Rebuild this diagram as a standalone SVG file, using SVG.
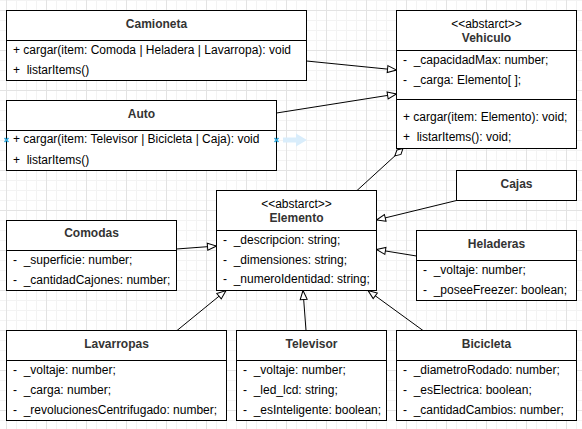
<svg xmlns="http://www.w3.org/2000/svg" width="582" height="429" viewBox="0 0 582 429">
<style>
.box{fill:#fff;stroke:#000;stroke-width:1}
.sep{stroke:#000;stroke-width:1;fill:none}
.t{font-family:"Liberation Sans",Arial,sans-serif;font-size:12px;fill:#000;white-space:pre}
.h{font-family:"Liberation Sans",Arial,sans-serif;font-size:12px;font-weight:bold;fill:#333;text-anchor:middle}
.s{font-family:"Liberation Sans",Arial,sans-serif;font-size:12px;fill:#000;text-anchor:middle}
.c{stroke:#000;stroke-width:1;fill:none}
</style>
<defs>
<pattern id="minor" patternUnits="userSpaceOnUse" x="6" y="0" width="10" height="10">
<path d="M0.5 0 V10 M0 0.5 H10" stroke="#f3f3f3" stroke-width="1" fill="none"/>
</pattern>
<pattern id="major" patternUnits="userSpaceOnUse" x="6" y="10" width="40" height="40">
<path d="M0.5 0 V40 M0 0.5 H40" stroke="#e3e3e3" stroke-width="1" fill="none"/>
</pattern>
<marker id="tri" markerUnits="userSpaceOnUse" orient="auto" overflow="visible" refX="0" refY="0" markerWidth="1" markerHeight="1">
<path d="M-9,-3.5 L0,0 L-9,3.5 z" fill="#fff" stroke="#000" stroke-width="1"/>
</marker>
<marker id="dia" markerUnits="userSpaceOnUse" orient="auto" overflow="visible" refX="0" refY="0" markerWidth="1" markerHeight="1">
<path d="M0,0 L-5.5,-3 L-11,0 L-5.5,3 z" fill="#fff" stroke="#000" stroke-width="1"/>
</marker>
</defs>
<rect width="582" height="429" fill="#fff"/>
<rect width="582" height="429" fill="url(#minor)"/>
<rect width="582" height="429" fill="url(#major)"/>

<g id="connectors">
<path class="c" d="M306.5 61 L396.5 70" marker-end="url(#tri)"/>
<path class="c" d="M276.5 113 L396.5 94" marker-end="url(#tri)"/>
<path class="c" d="M357 190.5 L403 148.5" marker-end="url(#dia)"/>
<path class="c" d="M176.5 249 L216.5 246" marker-end="url(#tri)"/>
<path class="c" d="M456.5 200.5 L376.5 220" marker-end="url(#tri)"/>
<path class="c" d="M416.5 256 L376.5 249.5" marker-end="url(#tri)"/>
<path class="c" d="M177 330.5 L226 290.5" marker-end="url(#tri)"/>
<path class="c" d="M306 330.5 L303 290.5" marker-end="url(#tri)"/>
<path class="c" d="M423 330.5 L368 290.5" marker-end="url(#tri)"/>
</g>

<g id="camioneta">
<rect class="box" x="6.5" y="10.5" width="300" height="70"/>
<path class="sep" d="M6.5 40.5 H306.5"/>
<text class="h" x="156.5" y="28">Camioneta</text>
<text class="t" x="13" y="54">+ cargar(item: Comoda | Heladera | Lavarropa): void</text>
<text class="t" x="13" y="74">+  listarItems()</text>
</g>

<g id="auto">
<rect class="box" x="6.5" y="100.5" width="270" height="70"/>
<path class="sep" d="M6.5 130.5 H276.5"/>
<text class="h" x="141.5" y="118">Auto</text>
<text class="t" x="13" y="143">+ cargar(item: Televisor | Bicicleta | Caja): void</text>
<text class="t" x="13" y="164">+  listarItems()</text>
</g>

<g id="vehiculo">
<rect class="box" x="396.5" y="10.5" width="180" height="138"/>
<path class="sep" d="M396.5 50.5 H576.5 M396.5 99.5 H576.5"/>
<text class="s" x="486.5" y="28">&lt;&lt;abstarct&gt;&gt;</text>
<text class="h" x="486.5" y="42">Vehiculo</text>
<text class="t" x="403" y="64">-  _capacidadMax: number;</text>
<text class="t" x="403" y="84">-  _carga: Elemento[ ];</text>
<text class="t" x="403" y="121">+ cargar(item: Elemento): void;</text>
<text class="t" x="403" y="141">+  listarItems(): void;</text>
</g>

<g id="elemento">
<rect class="box" x="216.5" y="190.5" width="160" height="100"/>
<path class="sep" d="M216.5 230.5 H376.5"/>
<text class="s" x="296.5" y="208">&lt;&lt;abstarct&gt;&gt;</text>
<text class="h" x="296.5" y="222">Elemento</text>
<text class="t" x="223" y="244">-  _descripcion: string;</text>
<text class="t" x="223" y="264">-  _dimensiones: string;</text>
<text class="t" x="223" y="283">-  _numeroIdentidad: string;</text>
</g>

<g id="comodas">
<rect class="box" x="6.5" y="220.5" width="170" height="70"/>
<path class="sep" d="M6.5 250.5 H176.5"/>
<text class="h" x="91.5" y="237">Comodas</text>
<text class="t" x="13" y="264">-  _superficie: number;</text>
<text class="t" x="13" y="284">-  _cantidadCajones: number;</text>
</g>

<g id="cajas">
<rect class="box" x="456.5" y="170.5" width="120" height="30"/>
<text class="h" x="516.5" y="188">Cajas</text>
</g>

<g id="heladeras">
<rect class="box" x="416.5" y="230.5" width="160" height="70"/>
<path class="sep" d="M416.5 260.5 H576.5"/>
<text class="h" x="496.5" y="248">Heladeras</text>
<text class="t" x="423" y="274">-  _voltaje: number;</text>
<text class="t" x="423" y="294">-  _poseeFreezer: boolean;</text>
</g>

<g id="lavarropas">
<rect class="box" x="6.5" y="330.5" width="220" height="90"/>
<path class="sep" d="M6.5 360.5 H226.5"/>
<text class="h" x="116.5" y="348">Lavarropas</text>
<text class="t" x="13" y="374">-  _voltaje: number;</text>
<text class="t" x="13" y="394">-  _carga: number;</text>
<text class="t" x="13" y="414">-  _revolucionesCentrifugado: number;</text>
</g>

<g id="televisor">
<rect class="box" x="236.5" y="330.5" width="150" height="90"/>
<path class="sep" d="M236.5 360.5 H386.5"/>
<text class="h" x="311.5" y="348">Televisor</text>
<text class="t" x="243" y="374">-  _voltaje: number;</text>
<text class="t" x="243" y="394">-  _led_lcd: string;</text>
<text class="t" x="243" y="414">-  _esInteligente: boolean;</text>
</g>

<g id="bicicleta">
<rect class="box" x="396.5" y="330.5" width="180" height="90"/>
<path class="sep" d="M396.5 360.5 H576.5"/>
<text class="h" x="486.5" y="348">Bicicleta</text>
<text class="t" x="403" y="374">-  _diametroRodado: number;</text>
<text class="t" x="403" y="394">-  _esElectrica: boolean;</text>
<text class="t" x="403" y="414">-  _cantidadCambios: number;</text>
</g>

<g id="selection-marks">
<path d="M4.5 138 L8.5 142 M8.5 138 L4.5 142" stroke="#29a8e0" stroke-width="1.5"/>
<path d="M274.5 138 L278.5 142 M278.5 138 L274.5 142" stroke="#29a8e0" stroke-width="1.5"/>
<path d="M283 137.5 H296 V133.5 L307 140 L296 146.5 V142.5 H283 z" fill="#d9edfb"/>
</g>
</svg>
